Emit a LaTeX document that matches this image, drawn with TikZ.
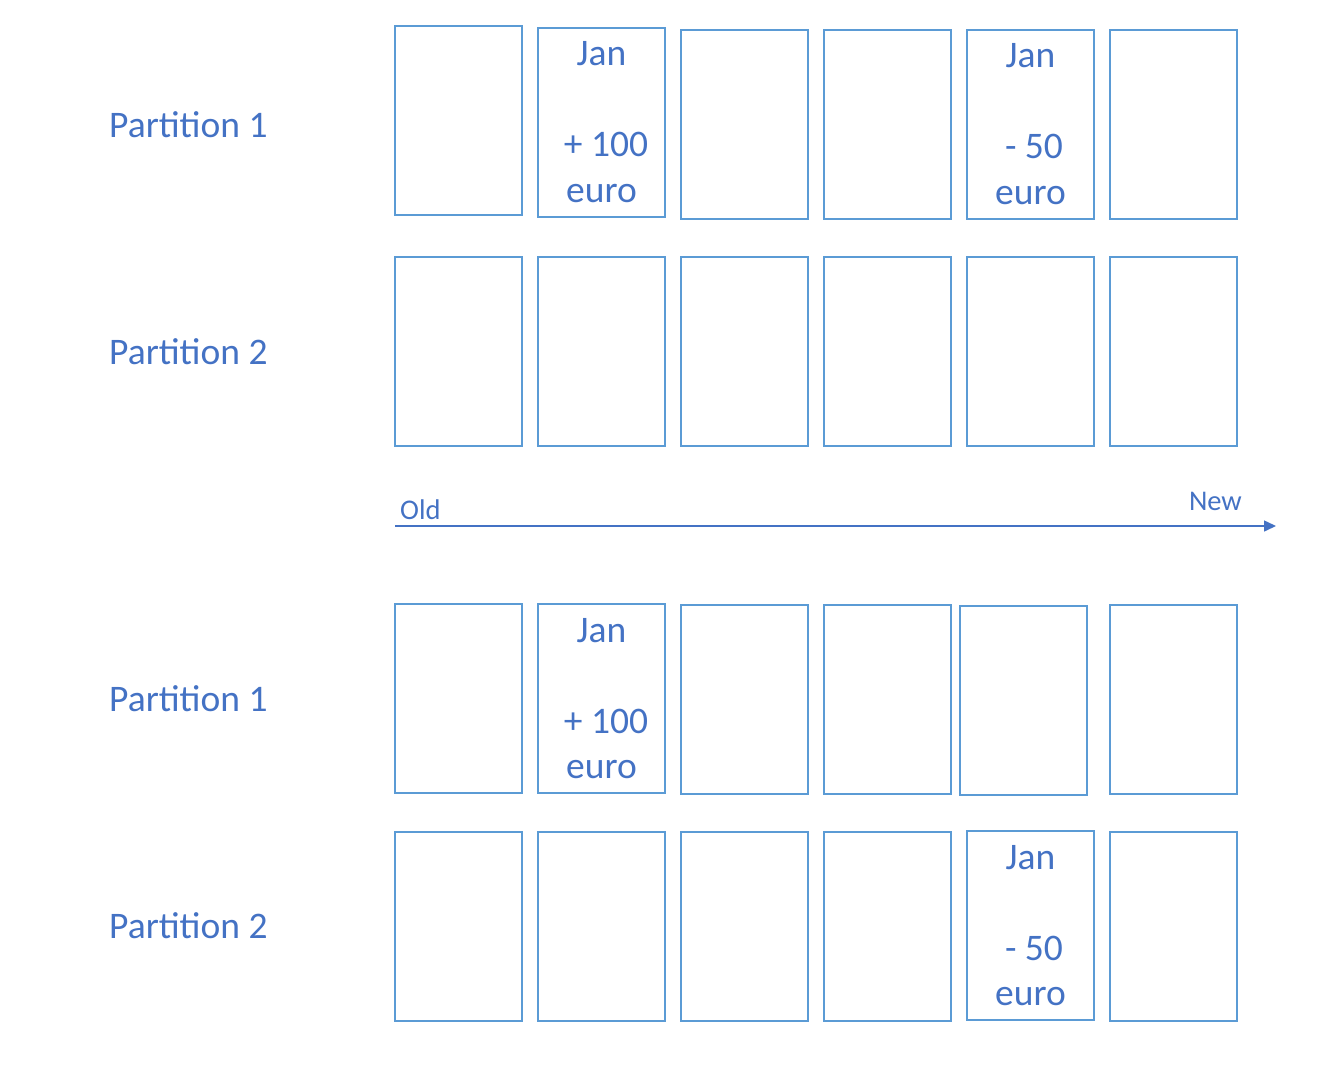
\documentclass[tikz,border=0pt]{standalone}
\usepackage{fontspec}
\setmainfont{Carlito}
\usetikzlibrary{arrows.meta}
\definecolor{txtblue}{HTML}{4472C4}
\definecolor{boxblue}{HTML}{5B9BD5}
\begin{document}
\begin{tikzpicture}[x=1pt,y=-1pt,
  cell/.style={draw=boxblue,line width=2pt,minimum width=127pt,minimum height=189pt,inner sep=0pt,
    text=txtblue,align=center,font=\fontsize{37.5}{45.5}\selectfont},
  plabel/.style={text=txtblue,anchor=west,inner sep=0pt,font=\fontsize{37.5}{45}\selectfont},
  axlabel/.style={text=txtblue,inner sep=0pt,font=\fontsize{28.5}{34}\selectfont}]
\useasboundingbox (0,0) rectangle (1342,1079);
% labels
\node[plabel] (p1a) at (109,125) {Partition 1};
\node[plabel] (p2a) at (109,352) {Partition 2};
\node[plabel] (p1b) at (109,699) {Partition 1};
\node[plabel] (p2b) at (109,926) {Partition 2};
% row 1
\node[cell] (a1) at (458.5,120.5) {};
\node[cell] (a2) at (601.5,122) {Jan\\\mbox{}\\\hspace*{9pt}+ 100\\euro};
\node[cell] (a3) at (744.5,124) {};
\node[cell] (a4) at (887.5,124) {};
\node[cell] (a5) at (1030.5,124) {Jan\\\mbox{}\\\hspace*{7pt}- 50\\euro};
\node[cell] (a6) at (1173.5,124) {};
% row 2
\node[cell] (b1) at (458.5,351) {};
\node[cell] (b2) at (601.5,351) {};
\node[cell] (b3) at (744.5,351) {};
\node[cell] (b4) at (887.5,351) {};
\node[cell] (b5) at (1030.5,351) {};
\node[cell] (b6) at (1173.5,351) {};
% axis
\coordinate (ostart) at (395,526);
\coordinate (oend) at (1276,526);
\draw[txtblue,line width=1.5pt,-{Triangle[length=12pt,width=11pt]}] (ostart) -- (oend);
\node[axlabel,anchor=west] (old) at (400,510) {Old};
\node[axlabel,anchor=east] (new) at (1242,501) {New};
% row 3
\node[cell] (c1) at (458.5,698.5) {};
\node[cell] (c2) at (601.5,698.5) {Jan\\\mbox{}\\\hspace*{9pt}+ 100\\euro};
\node[cell] (c3) at (744.5,699) {};
\node[cell] (c4) at (887.5,699) {};
\node[cell] (c5) at (1023.5,700) {};
\node[cell] (c6) at (1173.5,699) {};
% row 4
\node[cell] (d1) at (458.5,926) {};
\node[cell] (d2) at (601.5,926) {};
\node[cell] (d3) at (744.5,926) {};
\node[cell] (d4) at (887.5,926) {};
\node[cell] (d5) at (1030.5,925.5) {Jan\\\mbox{}\\\hspace*{7pt}- 50\\euro};
\node[cell] (d6) at (1173.5,926) {};
\end{tikzpicture}
\end{document}
